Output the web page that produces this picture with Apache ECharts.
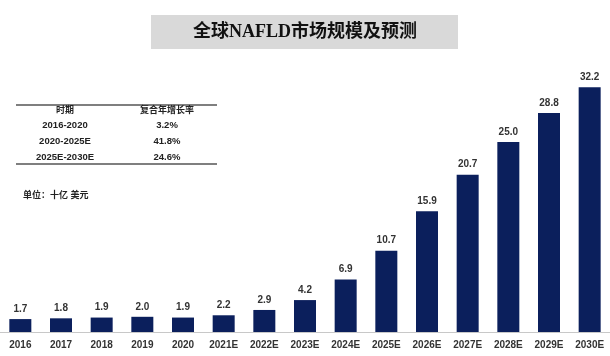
<!DOCTYPE html>
<html><head><meta charset="utf-8">
<script src="https://cdn.jsdelivr.net/npm/echarts@6/dist/echarts.min.js"></script>
<style>html,body{margin:0;padding:0;background:#fff}#c{width:610px;height:356px}</style>
</head><body><div id="c"></div>
<script>
const categories = ['2016','2017','2018','2019','2020','2021E','2022E','2023E','2024E','2025E','2026E','2027E','2028E','2029E','2030E'];
const values = [1.7,1.8,1.9,2.0,1.9,2.2,2.9,4.2,6.9,10.7,15.9,20.7,25.0,28.8,32.2];
const tableHeader = ['时期','复合年增长率'];
const tablePeriods = ['2016-2020','2020-2025E','2025E-2030E'];
const tableCagr = ['3.2%','41.8%','24.6%'];
const titleText = '全球NAFLD市场规模及预测';
const unitText = '单位：十亿 美元';

const chart = echarts.init(document.getElementById('c'));
const font = 'Liberation Sans, "Noto Sans CJK SC", sans-serif';
const graphics = [
  {type:'rect', shape:{x:151,y:15,width:307,height:34}, style:{fill:'#d9d9d9'}},
  {type:'text', x:305, y:32, style:{text:titleText, font:'bold 18px "Liberation Serif", "Noto Sans CJK SC", serif', fill:'#111', align:'center', verticalAlign:'middle'}},
  {type:'line', shape:{x1:16,y1:105,x2:217,y2:105}, style:{stroke:'#555',lineWidth:1.5}},
  {type:'line', shape:{x1:16,y1:164,x2:217,y2:164}, style:{stroke:'#555',lineWidth:1.5}},
  {type:'text', x:65, y:111, style:{text:tableHeader[0], font:'bold 9px '+font, fill:'#222', align:'center', verticalAlign:'middle'}},
  {type:'text', x:167, y:111, style:{text:tableHeader[1], font:'bold 9px '+font, fill:'#222', align:'center', verticalAlign:'middle'}},
  {type:'text', x:23, y:196, style:{text:unitText, font:'bold 9px '+font, fill:'#222', align:'left', verticalAlign:'middle'}}
];
const rowY = [125,141,157];
tablePeriods.forEach((p,i)=>{
  graphics.push({type:'text', x:65, y:rowY[i], style:{text:p, font:'bold 9.5px '+font, fill:'#222', align:'center', verticalAlign:'middle'}});
  graphics.push({type:'text', x:167, y:rowY[i], style:{text:tableCagr[i], font:'bold 9.5px '+font, fill:'#222', align:'center', verticalAlign:'middle'}});
});

chart.setOption({
  animation:false,
  grid:{left:0,right:0,top:28,bottom:24,containLabel:false},
  xAxis:{type:'category',data:categories,
    axisLine:{lineStyle:{color:'#c8c8c8',width:1}},
    axisTick:{show:false},
    axisLabel:{color:'#333',fontWeight:'bold',fontSize:10,fontFamily:font,margin:8,interval:0}},
  yAxis:{type:'value',min:0,max:40,show:false,splitLine:{show:false}},
  series:[{type:'bar',data:values,barWidth:22,itemStyle:{color:'#0b1f5c'},
    label:{show:true,position:'top',distance:5,color:'#333',fontWeight:'bold',fontSize:10,fontFamily:font,
      formatter:p=>p.value.toFixed(1)}}],
  graphic:graphics
});
</script></body></html>
